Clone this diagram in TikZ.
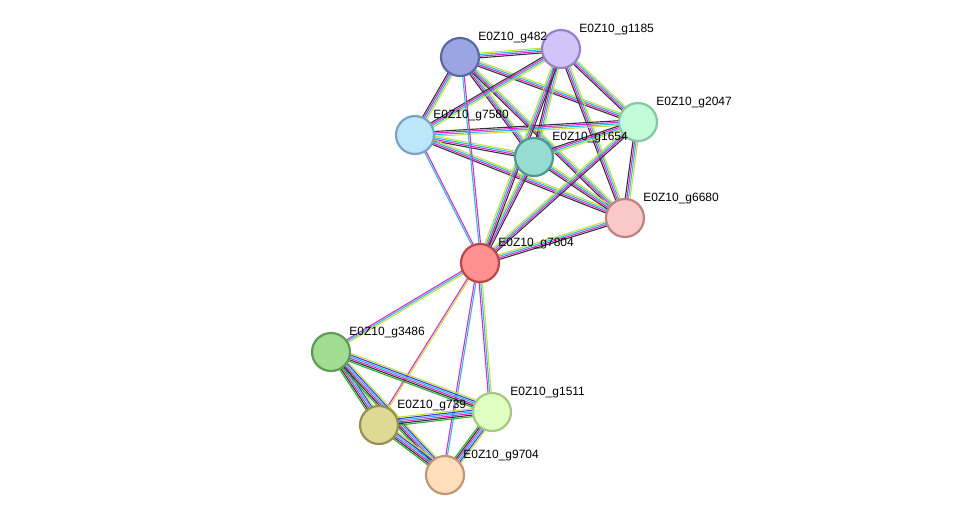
\documentclass[tikz,border=0pt]{standalone}
\usepackage{fontspec}
\setmainfont{Liberation Sans}
\usetikzlibrary{calc}
\pgfdeclarelayer{bg}
\pgfsetlayers{bg,main}
\definecolor{txm}{RGB}{199,222,60}
\definecolor{exp}{RGB}{220,40,210}
\definecolor{dbs}{RGB}{40,190,220}
\definecolor{cox}{RGB}{50,50,50}
\definecolor{coo}{RGB}{60,60,230}
\definecolor{nbh}{RGB}{40,180,40}
\tikzset{
  prot/.style={circle, draw, line width=1.1pt, minimum size=19pt, inner sep=0pt},
  lbl/.style={anchor=west, inner sep=0pt, font=\fontsize{6}{7}\selectfont},
  strand/.style={line width=0.55pt}
}
\newcommand\linkset[3]{%
  \foreach \c [count=\i] in {#3}{%
    \pgfmathsetmacro\o{(\i-2.5)*0.8}%
    \draw[strand, \c] ($(#1)!\o pt!90:(#2)$) -- ($(#2)!\o pt!-90:(#1)$);
  }}
\begin{document}
\begin{tikzpicture}[x=0.5pt, y=-0.5pt]
        \useasboundingbox (0,0) rectangle (976,521);
        \node (g482) [prot, draw={rgb,255:red,90;green,105;blue,165}, fill={rgb,255:red,155;green,165;blue,225}] at (460,57) {};
        \node (g1185) [prot, draw={rgb,255:red,150;green,130;blue,200}, fill={rgb,255:red,210;green,195;blue,250}] at (561,49) {};
        \node (g2047) [prot, draw={rgb,255:red,130;green,200;blue,160}, fill={rgb,255:red,195;green,250;blue,215}] at (638,122) {};
        \node (g7580) [prot, draw={rgb,255:red,120;green,165;blue,195}, fill={rgb,255:red,190;green,230;blue,250}] at (415,135) {};
        \node (g1654) [prot, draw={rgb,255:red,80;green,150;blue,145}, fill={rgb,255:red,150;green,220;blue,210}] at (534,157) {};
        \node (g6680) [prot, draw={rgb,255:red,190;green,130;blue,130}, fill={rgb,255:red,250;green,200;blue,200}] at (625,218) {};
        \node (g7804) [prot, draw={rgb,255:red,190;green,70;blue,70}, fill={rgb,255:red,255;green,145;blue,145}] at (480,263) {};
        \node (g3486) [prot, draw={rgb,255:red,95;green,155;blue,85}, fill={rgb,255:red,160;green,220;blue,145}] at (331,352) {};
        \node (g1511) [prot, draw={rgb,255:red,165;green,200;blue,130}, fill={rgb,255:red,225;green,255;blue,195}] at (492,412) {};
        \node (g739) [prot, draw={rgb,255:red,150;green,145;blue,80}, fill={rgb,255:red,222;green,218;blue,150}] at (379,425) {};
        \node (g9704) [prot, draw={rgb,255:red,195;green,150;blue,115}, fill={rgb,255:red,255;green,222;blue,190}] at (445,475) {};
        \foreach \n/\t in {g482/E0Z10\_g482, g1185/E0Z10\_g1185, g2047/E0Z10\_g2047,
            g7580/E0Z10\_g7580, g1654/E0Z10\_g1654, g6680/E0Z10\_g6680,
            g7804/E0Z10\_g7804, g3486/E0Z10\_g3486, g1511/E0Z10\_g1511,
            g739/E0Z10\_g739, g9704/E0Z10\_g9704}
          \node (\n-l) [lbl] at ([shift={(9pt,9.5pt)}]\n.center) {\t};
        \begin{pgfonlayer}{bg}
                \foreach \a/\b in {g482/g1185, g482/g2047, g482/g7580, g482/g1654, g482/g6680,
                    g1185/g2047, g1185/g7580, g1185/g1654, g1185/g6680,
                    g2047/g7580, g2047/g1654, g2047/g6680,
                    g7580/g1654, g7580/g6680, g1654/g6680,
                    g7804/g1654, g7804/g6680, g7804/g2047, g7804/g1185}
                  \linkset{\a}{\b}{cox, exp, dbs, txm};
                \linkset{g7804}{g7580}{exp, dbs};
                \linkset{g7804}{g482}{exp, dbs};
                \linkset{g7804}{g3486}{exp, dbs, txm};
                \linkset{g7804}{g739}{exp, txm};
                \linkset{g7804}{g1511}{exp, dbs, txm};
                \linkset{g7804}{g9704}{exp, dbs};
                \foreach \a/\b in {g3486/g739, g3486/g1511, g3486/g9704,
                    g739/g1511, g739/g9704, g1511/g9704}
                  \linkset{\a}{\b}{nbh, cox, exp, dbs, coo, txm};
        \end{pgfonlayer}
\end{tikzpicture}
\end{document}
